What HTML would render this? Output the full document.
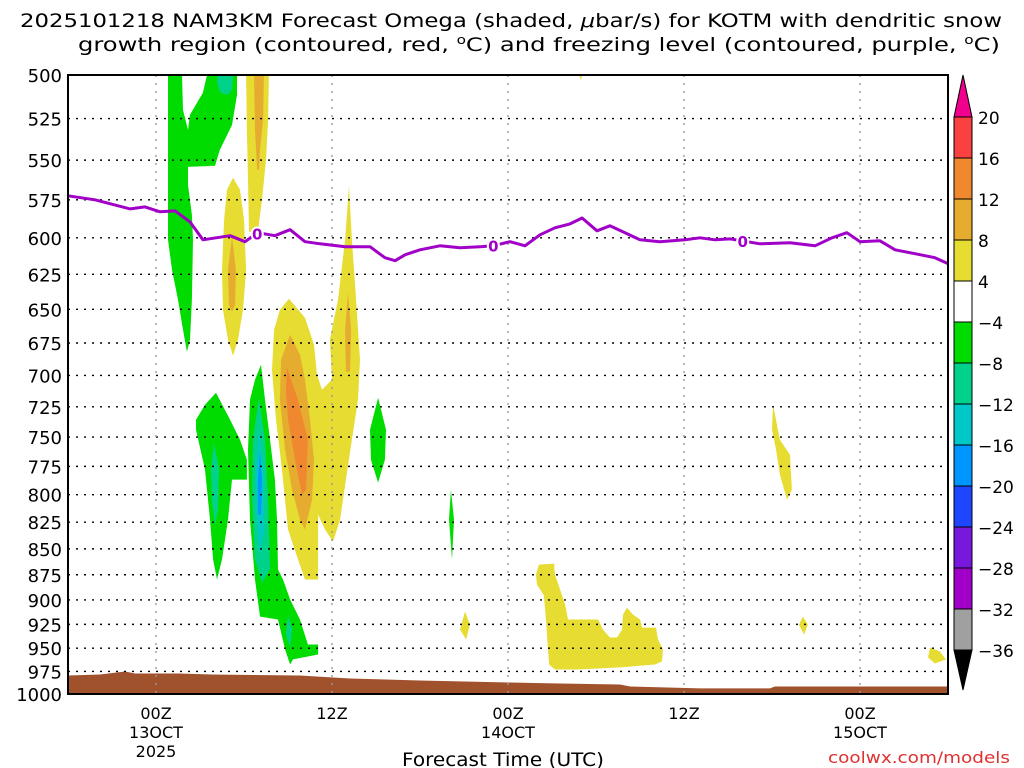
<!DOCTYPE html>
<html><head><meta charset="utf-8">
<style>
html,body{margin:0;padding:0;background:#fff;}
svg{display:block;font-family:"DejaVu Sans","Liberation Sans",sans-serif;}
</style></head>
<body>
<svg id="chart" width="1024" height="768" viewBox="0 0 1024 768" xmlns="http://www.w3.org/2000/svg">
  <text x="20" y="27" font-size="19" textLength="982" lengthAdjust="spacingAndGlyphs">2025101218 NAM3KM Forecast Omega (shaded, <tspan font-style="italic">μ</tspan>bar/s) for KOTM with dendritic snow</text>
  <text x="78" y="51" font-size="19" textLength="922" lengthAdjust="spacingAndGlyphs">growth region (contoured, red, <tspan font-size="12" dy="-7">o</tspan><tspan dy="7">C) and freezing level (contoured, purple, </tspan><tspan font-size="12" dy="-7">o</tspan><tspan dy="7">C)</tspan></text>
  <g id="plot"></g>
  <g id="cbar"></g>
  <text x="402" y="766" font-size="19" textLength="202" lengthAdjust="spacingAndGlyphs">Forecast Time (UTC)</text>
  <text x="828" y="763" font-size="16" textLength="182" lengthAdjust="spacingAndGlyphs" fill="#e03030">coolwx.com/models</text>
</svg>
<script>
// ---- data ----
const pressureTicks = [500,525,550,575,600,625,650,675,700,725,750,775,800,825,850,875,900,925,950,975,1000];
const timeTickHours = [6,18,30,42,54];
const timeTickLine1 = ["00Z","12Z","00Z","12Z","00Z"];
const timeTickLine2 = ["13OCT","","14OCT","","15OCT"];
const timeTickLine3 = ["2025","","","",""];
const colorLevels = [20,16,12,8,4,-4,-8,-12,-16,-20,-24,-28,-32,-36];
const colorFills = ["#fa4040","#f08830","#e6ac30","#e6dc32","#ffffff","#00dc00","#00d28c","#00c8c8","#0096ff","#1e46ff","#7818dc","#a000c8","#a0a0a0"];

const freezeHours = [0,1.84,4.23,5.25,6.27,7.3,8.32,9.2,11.05,12.07,12.95,14.11,15.14,16.16,17.18,18.89,20.59,21.61,22.3,22.98,24,25.36,26.73,28.09,28.98,30.14,31.16,32.18,33.2,34.23,35.05,36.07,36.95,37.98,39,40.36,42.07,43.09,44.11,45.14,47.18,49.23,50.93,52.09,53.11,54,55.36,56.39,57.75,59.11,60];
const freezePres = [572.4,575,580.9,579.6,582.8,582.2,589.4,601.3,598.6,602.6,596.6,598.6,594.6,602.6,604,606,606,613.5,615.6,611.5,608.1,605.4,606.7,606,605.4,602.6,605.4,598,593.3,590.7,586.8,595.3,592,596.6,601.3,602.6,601.3,600,601.3,600.7,604,603.3,605.4,600,596.6,602.6,602,608.1,610.8,613.5,617.6];
const freezeLabelHours = [12.9,29,46];

const sfcHours = [0,2.18,3.89,4.57,7.64,9.82,15.82,19.23,24,30.14,33.55,37.64,38.32,43.09,47.86,48.2,60];
const sfcPres = [979.5,978.4,975.1,977.3,977.3,978.4,979.5,982.8,985,987.2,988.3,989.4,991.6,993.8,993.8,991.6,991.6];

const greenNorth = [[6.82,500],[7.77,500],[7.84,519.9],[8.18,531.7],[8.32,522.8],[9.2,510],[9.48,500],[11.52,500],[11.52,511.3],[11.18,528.8],[10.36,543.7],[10.02,553.5],[8.18,554.2],[8.18,565.5],[8.45,584.8],[8.52,601.3],[8.45,643.1],[8.32,672.5],[8.11,681.6],[7.84,665],[7.5,643.1],[7.09,621.8],[6.82,601.3]];
const tealNorth = [[10.23,500],[11.25,500],[11.18,508.4],[10.84,511.3],[10.36,509.6],[10.16,503.9]];
const yellowCol = [[12.14,500],[13.7,500],[13.64,525.8],[13.5,549.8],[13.23,575],[12.95,596],[12.34,596],[12.27,562.3],[12.2,531.7]];
const orangeCol = [[12.68,500],[13.36,500],[13.3,525.8],[13.09,543.7],[13.02,555.9],[12.89,555.9],[12.75,531.7]];
const yellowEll = [[11.25,561],[11.73,568.6],[12,588],[12.14,621.8],[11.93,650.3],[11.59,672.5],[11.25,684.7],[10.91,672.5],[10.57,650.3],[10.5,621.8],[10.64,588],[10.84,568.6]];
const orangeEll = [[11.18,599.3],[11.45,621.8],[11.39,646.7],[11.18,651.7],[10.98,646.7],[10.91,621.8]];
const yellowBig = [[15.07,642.4],[16.16,656.2],[16.77,676.3],[16.98,699.4],[17.32,711.2],[18,703.3],[17.86,672.5],[18.41,643.1],[18.89,601.3],[19.16,566.1],[19.36,601.3],[19.64,643.1],[19.91,687.8],[19.77,719.2],[19.36,752.2],[18.95,786.6],[18.55,822.6],[18.07,843.1],[17.52,831.8],[17.05,818],[17.05,841.2],[17.05,879.7],[16.16,879.7],[15.68,860.2],[15,831.8],[14.59,777.8],[14.18,735.5],[13.91,695.5],[14.05,665],[14.45,650.3]];
const orangeBig = [[15.14,668.8],[15.82,683.9],[16.16,703.3],[16.5,735.5],[16.77,769.2],[16.64,804.4],[16.16,831.8],[15.82,822.6],[15.27,795.4],[14.8,760.6],[14.45,719.2],[14.52,687.8]];
const darkOrangeBig = [[14.93,694],[15.68,719.2],[16.36,752.2],[16.23,795.4],[15.95,799.9],[15.48,769.2],[15,735.5],[14.86,711.2]];
const orangeSpike = [[19.09,638.1],[19.3,665],[19.23,697],[18.95,697],[18.89,665]];
const greenWest = [[10.09,713.6],[11.05,735.5],[11.73,752.2],[12.2,769.2],[12.2,786.6],[11.18,786.6],[10.91,822.6],[10.5,860.2],[10.16,879.7],[9.89,860.2],[9.68,822.6],[9.34,777.8],[8.73,743.8],[8.73,735.5],[9.34,723.3]];
const tealWest = [[9.95,754.7],[10.3,777.8],[10.23,813.4],[10.02,827.2],[9.82,804.4],[9.75,777.8]];
const greenCore = [[13.16,691.6],[13.43,719.2],[13.77,752.2],[14.11,786.6],[14.25,822.6],[14.32,869.9],[14.66,879.7],[15.14,899.6],[15.82,920],[16.36,946.1],[17.05,946.1],[17.05,956.7],[15.34,962],[15.14,967.5],[14.8,951.4],[14.32,920],[13.09,917],[12.75,879.7],[12.41,822.6],[12.27,760.6],[12.41,719.2],[12.75,703.3]];
const tealCore = [[13.02,717.6],[13.43,752.2],[13.64,804.4],[13.77,869.9],[13.23,882.6],[12.75,860.2],[12.55,804.4],[12.61,752.2]];
const cyanCore = [[13.02,743.8],[13.3,777.8],[13.36,831.8],[13.09,855.4],[12.89,822.6],[12.82,777.8]];
const blueCore = [[13.09,762.3],[13.23,786.6],[13.16,818],[12.95,818],[12.95,786.6]];
const tealLow = [[15,914.9],[15.27,930.4],[15.14,949.3],[14.86,935.6]];
const greenSpike = [[21.14,717.6],[21.68,743.8],[21.61,769.2],[21.14,789.2],[20.66,769.2],[20.59,743.8]];
const greenSmall = [[26.11,795.4],[26.32,822.6],[26.18,860.2],[25.98,822.6]];
const yellowSmall = [[27.07,911.8],[27.41,925.2],[27.14,940.8],[26.73,930.4]];
const yellowLow = [[32.11,865.1],[33.14,864.1],[33.2,874.8],[33.55,889.6],[33.89,904.7],[34.09,920],[36.14,920],[36.48,930.4],[36.95,938.7],[37.43,938.7],[37.77,930.4],[37.84,914.9],[38.11,907.8],[38.52,914.9],[39,920],[39.14,928.3],[40.09,928.3],[40.23,940.8],[40.57,951.4],[40.5,964.2],[40.02,967.5],[37.64,970.7],[34.77,972.9],[33.2,972.9],[32.8,967.5],[32.73,951.4],[32.59,920],[32.45,895.6],[31.98,884.7],[31.91,874.8]];
const yellowEast = [[48.07,723.3],[48.54,752.2],[49.23,764.9],[49.36,795.4],[49.02,804.4],[48.54,782.2],[48.27,760.6],[48,743.8]];
const yellowDot = [[50.11,917],[50.45,925.2],[50.18,935.6],[49.84,925.2]];
const yellowEdge = [[58.77,949.3],[59.45,953.5],[59.86,962],[59.11,966.4],[58.64,960]];
const yellowTop = [[34.84,500],[35.05,500],[34.98,502.8]];

const regionList = [
 ["green-region-north",greenNorth,5],["teal-region-north",tealNorth,6],
 ["yellow-region-column",yellowCol,3],["orange-region-column",orangeCol,2],
 ["yellow-region-ellipse",yellowEll,3],["orange-region-ellipse",orangeEll,2],
 ["yellow-region-main",yellowBig,3],["orange-region-main",orangeBig,2],["dark-orange-region-main",darkOrangeBig,1],["orange-region-spike",orangeSpike,2],
 ["green-region-west",greenWest,5],["teal-region-west",tealWest,6],
 ["green-region-core",greenCore,5],["teal-region-core",tealCore,6],["cyan-region-core",cyanCore,7],["blue-region-core",blueCore,8],["teal-region-low",tealLow,6],
 ["green-region-spike",greenSpike,5],["green-region-small",greenSmall,5],
 ["yellow-region-small",yellowSmall,3],["yellow-region-low",yellowLow,3],["yellow-region-east",yellowEast,3],["yellow-region-dot",yellowDot,3],["yellow-region-edge",yellowEdge,3],["yellow-region-top",yellowTop,3]
];

// ---- axes ----
const X0=68, X1=948, Y0=75, Y1=694, HMAX=60;
const xs = h => X0 + h*(X1-X0)/HMAX;
const ys = p => Y0 + (Y1-Y0)*Math.log(p/500)/Math.log(2);
const NS="http://www.w3.org/2000/svg";
function mk(tag, attrs, parent){const e=document.createElementNS(NS,tag);for(const k in attrs)e.setAttribute(k,attrs[k]);parent.appendChild(e);return e;}
const plot=document.getElementById('plot');
const cbar=document.getElementById('cbar');

regionList.forEach(r=>{
  const pts=r[1].map(v=>xs(v[0]).toFixed(1)+","+ys(v[1]).toFixed(1)).join(" ");
  const el=mk('polygon',{points:pts,fill:colorFills[r[2]]},plot);
  
  
});

{
  let d="M"+xs(sfcHours[0])+","+ys(1000);
  sfcHours.forEach((h,i)=>{d+=" L"+xs(h).toFixed(1)+","+ys(sfcPres[i]).toFixed(1);});
  d+=" L"+xs(sfcHours[sfcHours.length-1])+","+ys(1000)+" Z";
  const el=mk('path',{d:d,fill:"#a0522d"},plot);
  
  
}

pressureTicks.forEach(p=>{
  const y=ys(p);
  if(p>500&&p<1000){
    const g=mk('line',{x1:X0,x2:X1,y1:y,y2:y,stroke:"#000","stroke-width":1.4,"stroke-dasharray":"2,6"},plot);
    
    
  }
  const t=mk('text',{x:62,y:y+7,"font-size":18,"text-anchor":"end"},plot);
  t.textContent=p;
  
  
});
timeTickHours.forEach((h,i)=>{
  const x=xs(h);
  const g=mk('line',{x1:x,x2:x,y1:Y0,y2:Y1,stroke:"#999","stroke-width":1.4,"stroke-dasharray":"2,6"},plot);
  
  
  [timeTickLine1[i],timeTickLine2[i],timeTickLine3[i]].forEach((s,j)=>{
    if(!s)return;
    const t=mk('text',{x:x,y:719+j*19,"font-size":16,"text-anchor":"middle"},plot);
    t.textContent=s;
    
    
  });
});

{
  const pts=freezeHours.map((h,i)=>xs(h).toFixed(1)+","+ys(freezePres[i]).toFixed(1)).join(" ");
  const el=mk('polyline',{points:pts,fill:"none",stroke:"#a000c8","stroke-width":3,"stroke-linejoin":"round"},plot);
  
  
  freezeLabelHours.forEach(h=>{
    let k=0;while(k<freezeHours.length-2&&freezeHours[k+1]<h)k++;
    const f=(h-freezeHours[k])/(freezeHours[k+1]-freezeHours[k]);
    const p=freezePres[k]+f*(freezePres[k+1]-freezePres[k]);
    const t=mk('text',{x:xs(h),y:ys(p)+6,"font-size":15,"font-weight":"bold","text-anchor":"middle",fill:"#a000c8",stroke:"#fff","stroke-width":4,"paint-order":"stroke"},plot);
    t.textContent="0";
    
    
  });
}

{
  const el=mk('rect',{x:X0,y:Y0,width:X1-X0,height:Y1-Y0,fill:"none",stroke:"#000","stroke-width":2},plot);
  
  
}

{
  const cx=954, cw=18, top=117, step=41;
  const up=mk('polygon',{points:`${cx},${top} ${cx+cw},${top} ${cx+cw/2},${top-42}`,fill:"#f0008c",stroke:"#000","stroke-width":1},cbar);
  
  
  colorFills.forEach((c,i)=>{
    const r=mk('rect',{x:cx,y:top+i*step,width:cw,height:step,fill:c,stroke:"#000","stroke-width":1},cbar);
    
    
  });
  const bt=top+colorFills.length*step;
  const dn=mk('polygon',{points:`${cx},${bt} ${cx+cw},${bt} ${cx+cw/2},${bt+40}`,fill:"#000",stroke:"#000","stroke-width":1},cbar);
  
  
  colorLevels.forEach((v,i)=>{
    const t=mk('text',{x:978,y:top+i*step+7,"font-size":17},cbar);
    t.textContent=v<0?"\u2212"+(-v):String(v);
    
    
  });
}
</script>
</body></html>
